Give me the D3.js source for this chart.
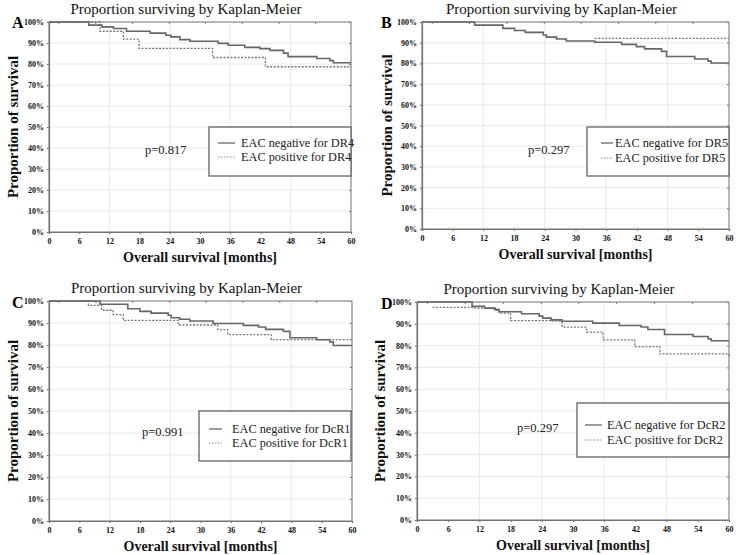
<!DOCTYPE html>
<html><head><meta charset="utf-8">
<script src="https://cdn.jsdelivr.net/npm/d3@7"></script>
<style>body{margin:0;background:#fff}svg{display:block}</style>
</head><body>
<svg id="chart" width="738" height="555"></svg>
<script>
// ---- data ----
const panelLetters = ["A", "B", "C", "D"];
const markers = ["DR4", "DR5", "DcR1", "DcR2"];
const pValues = ["p=0.817", "p=0.297", "p=0.991", "p=0.297"];
const xTicks = [0, 6, 12, 18, 24, 30, 36, 42, 48, 54, 60];
const yTicks = [0, 10, 20, 30, 40, 50, 60, 70, 80, 90, 100];
const gridX = [12, 24, 36, 48];
const topTicks = [1.9, 9.2, 16.5, 23.8, 31.0, 38.3, 45.6, 52.9];

// step curves: [month, survival %]
const negDR4 = [[0,100],[7.9,98.5],[10.5,97.7],[12.8,96.9],[15.4,95.6],[20.1,94.7],[23.2,93.7],[24.2,92.9],[26.0,91.6],[28.0,90.8],[33.6,89.8],[35.6,88.9],[38.9,87.9],[41.9,87.3],[43.9,86.5],[46.6,85.2],[47.5,83.5],[53.2,82.6],[55.8,81.6],[56.5,80.6],[60,80.6]];
const posDR4 = [[0,100],[10.1,95.6],[14.8,91.8],[17.9,87.4],[32.5,83.1],[43.0,78.7],[60,78.7]];
const negDR5 = [[0,100],[10.3,98.5],[15.8,96.9],[18.1,95.9],[20.2,95.0],[23.7,93.7],[24.3,92.7],[26.3,91.8],[28.2,90.8],[33.75,90.2],[39.0,89.2],[41.9,88.1],[43.5,87.0],[46.8,85.8],[47.8,83.3],[53.3,82.1],[55.9,81.1],[56.5,80.2],[60,80.2]];
const posDR5 = [[33.75,92.1],[60,92.1]];
const negDcR1 = [[0,100],[10.1,98.5],[15.6,96.5],[18.0,95.3],[20.2,94.5],[23.6,93.5],[24.2,92.4],[25.9,91.7],[27.9,90.9],[32.5,89.8],[38.5,88.9],[41.5,88.2],[42.9,87.1],[46.4,86.2],[47.7,83.3],[53.0,82.4],[55.6,81.4],[56.3,79.8],[60,79.8]];
const posDcR1 = [[0,100],[7.8,98.0],[10.4,95.8],[12.7,93.8],[14.7,91.2],[25.6,89.1],[33.4,87.0],[35.4,84.7],[44.0,82.4],[60,82.4]];
const negDcR2 = [[0,100],[10.6,98.0],[13.0,97.2],[14.9,96.5],[15.8,95.5],[20.1,94.6],[23.5,93.5],[24.2,92.6],[25.8,91.8],[27.9,91.2],[33.8,90.3],[38.9,89.2],[43.1,88.5],[44.4,87.4],[47.6,85.1],[53.1,84.2],[56.0,83.1],[56.6,82.2],[60,82.2]];
const posDcR2 = [[3.0,97.5],[10.8,97.2],[15.1,96.2],[15.8,94.9],[18.0,91.5],[26.0,91.2],[27.9,88.5],[32.6,86.2],[35.8,82.6],[41.9,79.5],[46.7,76.2],[60,74.5]];

const negSeries = [negDR4, negDR5, negDcR1, negDcR2];
const posSeries = [posDR4, posDR5, posDcR1, posDcR2];

// ---- layout ----
const panels = [
  {l:49, r:351, t:22, b:232, letter:[12,28], ylab:12, legend:[209,127,351,176], leg:[218,235,241,143,157], p:[145,150], titleY:14},
  {l:422, r:729, t:22, b:229, letter:[381,28], ylab:386, legend:[587,127,729,176], leg:[601,613,615,143,158], p:[528,150], titleY:14},
  {l:49, r:352, t:301, b:521, letter:[12,308], ylab:12, legend:[199,411,351,461], leg:[209,222,232,429,443], p:[142,432], titleY:293},
  {l:417, r:729, t:302, b:520, letter:[381,309], ylab:379, legend:[577,403,729,457], leg:[585,602,607,425,440], p:[517,428], titleY:294}
];

const svg = d3.select("#chart");
const serif = "'Liberation Serif','Times New Roman',serif";

panels.forEach((P, i) => {
  const g = svg.append("g");
  const x = d3.scaleLinear().domain([0, 60]).range([P.l, P.r]);
  const y = d3.scaleLinear().domain([0, 100]).range([P.b, P.t]);

  // grid
  g.selectAll(".gy").data(yTicks.filter(v => v > 0 && v < 100)).join("line")
    .attr("x1", P.l).attr("x2", P.r).attr("y1", d => y(d)).attr("y2", d => y(d))
    .attr("stroke", "#e4e4e4").attr("stroke-width", 0.8);
  g.selectAll(".gx").data(gridX).join("line")
    .attr("x1", d => x(d)).attr("x2", d => x(d)).attr("y1", P.t).attr("y2", P.b)
    .attr("stroke", "#e4e4e4").attr("stroke-width", 0.8);

  // axes
  const xa = g.append("g").attr("transform", `translate(0,${P.b})`)
    .call(d3.axisBottom(x).tickValues(xTicks).tickSize(2).tickPadding(4));
  const ya = g.append("g").attr("transform", `translate(${P.l},0)`)
    .call(d3.axisLeft(y).tickValues(yTicks).tickSize(2).tickPadding(3).tickFormat(d => d + "%"));
  [xa, ya].forEach(a => {
    a.select(".domain").attr("stroke", "#555").attr("stroke-width", 1.2);
    a.selectAll(".tick line").attr("stroke", "#666");
    a.selectAll("text").attr("font-family", serif).attr("font-weight", "bold")
      .attr("font-size", 8).attr("fill", "#111");
  });
  // right/top inner ticks
  g.append("g").attr("transform", `translate(${P.r},0)`)
    .call(d3.axisLeft(y).tickValues(yTicks).tickSize(2).tickFormat(""))
    .call(a => a.select(".domain").remove())
    .selectAll("line").attr("stroke", "#777");
  g.append("g").attr("transform", `translate(0,${P.t})`)
    .call(d3.axisBottom(x).tickValues(topTicks).tickSize(2).tickFormat(""))
    .call(a => a.select(".domain").remove())
    .selectAll("line").attr("stroke", "#777");

  // frame
  g.append("rect").attr("x", P.l).attr("y", P.t).attr("width", P.r - P.l).attr("height", P.b - P.t)
    .attr("fill", "none").attr("stroke", "#888").attr("stroke-width", 1.2);

  // curves
  const line = d3.line().x(d => x(d[0])).y(d => y(d[1])).curve(d3.curveStepAfter);
  g.append("path").datum(posSeries[i]).attr("d", line).attr("fill", "none")
    .attr("stroke", "#777").attr("stroke-width", 1.3).attr("stroke-dasharray", "2,1.5");
  g.append("path").datum(negSeries[i]).attr("d", line).attr("fill", "none")
    .attr("stroke", "#666").attr("stroke-width", 1.6);

  // title
  g.append("text").attr("x", (P.l + P.r) / 2 - 14).attr("y", P.titleY)
    .attr("text-anchor", "middle").attr("font-family", serif).attr("font-size", 15)
    .attr("fill", "#111").text("Proportion surviving by Kaplan-Meier");
  // letter
  g.append("text").attr("x", P.letter[0]).attr("y", P.letter[1])
    .attr("font-family", serif).attr("font-weight", "bold").attr("font-size", 16)
    .attr("fill", "#000").text(panelLetters[i]);
  // y label
  g.append("text").attr("transform", `translate(${P.ylab + 6},${(P.t + P.b) / 2}) rotate(-90)`)
    .attr("text-anchor", "middle").attr("font-family", serif).attr("font-weight", "bold")
    .attr("font-size", 15).attr("fill", "#111").text("Proportion of survival");
  // x label
  g.append("text").attr("x", (P.l + P.r) / 2).attr("y", P.b + 30)
    .attr("text-anchor", "middle").attr("font-family", serif).attr("font-weight", "bold")
    .attr("font-size", 14).attr("fill", "#111").text("Overall survival [months]");

  // legend
  const L = P.legend;
  g.append("rect").attr("x", L[0]).attr("y", L[1]).attr("width", L[2] - L[0]).attr("height", L[3] - L[1])
    .attr("fill", "#fff").attr("stroke", "#555").attr("stroke-width", 1.2);
  const lg = P.leg;
  g.append("line").attr("x1", lg[0]).attr("x2", lg[1]).attr("y1", lg[3]).attr("y2", lg[3])
    .attr("stroke", "#666").attr("stroke-width", 1.3);
  g.append("line").attr("x1", lg[0]).attr("x2", lg[1]).attr("y1", lg[4]).attr("y2", lg[4])
    .attr("stroke", "#888").attr("stroke-width", 1.1).attr("stroke-dasharray", "1.5,1.5");
  g.append("text").attr("x", lg[2]).attr("y", lg[3]).attr("dy", "0.35em")
    .attr("font-family", serif).attr("font-size", 12.3).attr("fill", "#222")
    .text("EAC negative for " + markers[i]);
  g.append("text").attr("x", lg[2]).attr("y", lg[4]).attr("dy", "0.35em")
    .attr("font-family", serif).attr("font-size", 12.3).attr("fill", "#222")
    .text("EAC positive for " + markers[i]);
  // p value
  g.append("text").attr("x", P.p[0]).attr("y", P.p[1]).attr("dy", "0.35em")
    .attr("font-family", serif).attr("font-size", 12.5).attr("fill", "#222").text(pValues[i]);
});
</script>
</body></html>
